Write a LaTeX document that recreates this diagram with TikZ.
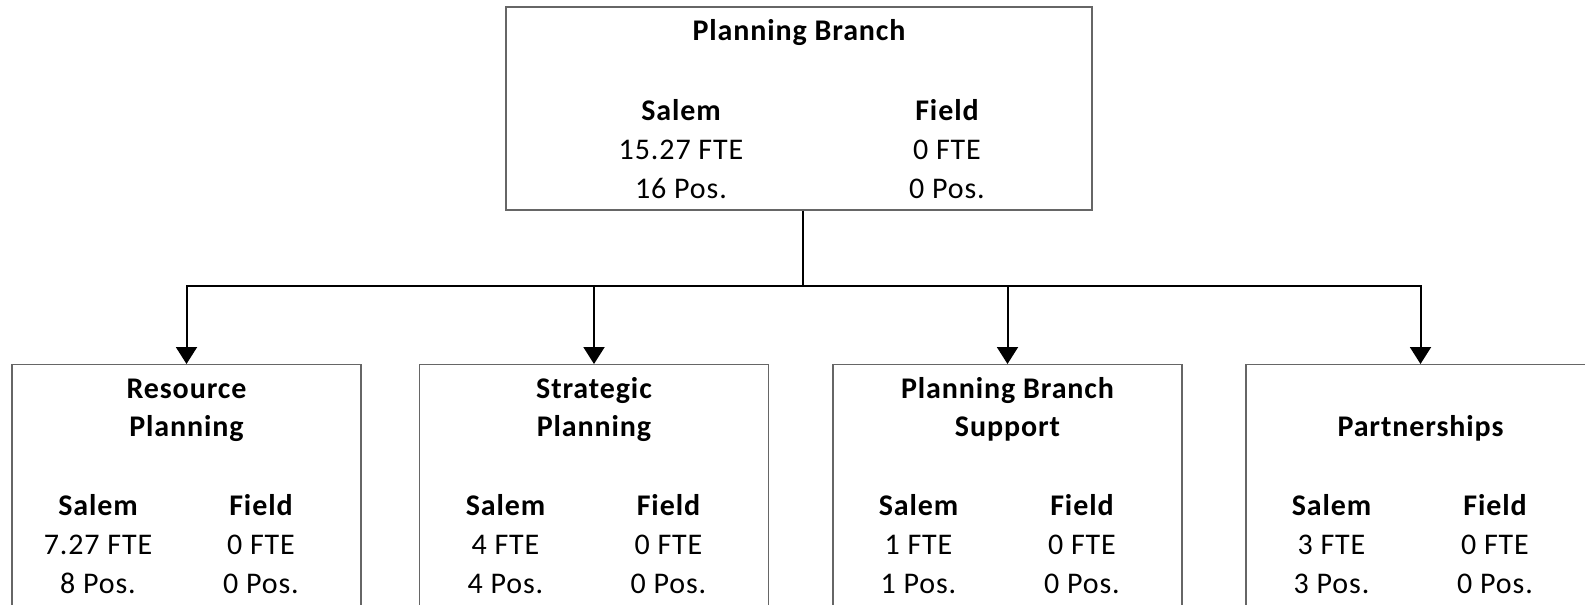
\documentclass[tikz,border=0pt]{standalone}
\usepackage{fontspec}
\setmainfont[LetterSpace=3]{Carlito}
\usetikzlibrary{arrows.meta}
\def\orgfont{\fontsize{15pt}{20pt}\selectfont}
\tikzset{
  unitbox/.style={draw=black!60,line width=0.6pt,rectangle,inner sep=0pt},
  txt/.style={font=\orgfont,inner sep=0pt,anchor=base},
  hdr/.style={font=\orgfont\bfseries,inner sep=0pt,anchor=base},
  link/.style={line width=1pt,-{Triangle[length=8.5pt,width=10.5pt]}}
}
% #1 name, #2 salem x, #3 field x, #4 first baseline, #5 FTE, #6 Pos.
\newcommand\staffcols[6]{%
  \node[hdr] (#1-s)  at (#2,#4)    {Salem};
  \node[hdr] (#1-f)  at (#3,#4)    {Field};
  \node[txt] (#1-sf) at (#2,#4+39) {#5 FTE};
  \node[txt] (#1-ff) at (#3,#4+39) {0 FTE};
  \node[txt] (#1-sp) at (#2,#4+78) {#6 Pos.};
  \node[txt] (#1-fp) at (#3,#4+78) {0 Pos.};
}
\begin{document}
\begin{tikzpicture}[x=0.5pt,y=-0.5pt]
  \useasboundingbox (0,0) rectangle (1585,605);
  \clip (0,0) rectangle (1585,605);
  % top unit
  \node[unitbox,minimum width=293pt,minimum height=101.5pt] (pb) at (799,108.5) {};
  \node[hdr] (pb-t) at (799,40.5) {Planning Branch};
  \staffcols{pb}{681}{947}{120}{15.27}{16}
  % sections
  \node[unitbox,minimum width=174.5pt,minimum height=130pt,anchor=north] (rp) at (186.5,364) {};
  \node[unitbox,minimum width=174.5pt,minimum height=130pt,anchor=north] (sp) at (594,364) {};
  \node[unitbox,minimum width=174.5pt,minimum height=130pt,anchor=north] (bs) at (1007.5,364) {};
  \node[unitbox,minimum width=174.5pt,minimum height=130pt,anchor=north] (pt) at (1420.5,364) {};
  \node[hdr] (rp-t1) at (186.5,398) {Resource};
  \node[hdr] (rp-t2) at (186.5,436) {Planning};
  \node[hdr] (sp-t1) at (594,398) {Strategic};
  \node[hdr] (sp-t2) at (594,436) {Planning};
  \node[hdr] (bs-t1) at (1007.5,398) {Planning Branch};
  \node[hdr] (bs-t2) at (1007.5,436) {Support};
  \node[hdr] (pt-t) at (1420.5,436) {Partnerships};
  \staffcols{rp}{98}{261}{515.5}{7.27}{8}
  \staffcols{sp}{505.5}{668.5}{515.5}{4}{4}
  \staffcols{bs}{918.5}{1082}{515.5}{1}{1}
  \staffcols{pt}{1331.5}{1495}{515.5}{3}{3}
  % connectors
  \coordinate (bus) at (803,286);
  \draw[line width=1pt] (pb.south -| bus) -- (bus);
  \draw[link] (bus) -| (rp.north);
  \draw[link] (bus) -| (sp.north);
  \draw[link] (bus) -| (bs.north);
  \draw[link] (bus) -| (pt.north);
\end{tikzpicture}
\end{document}
